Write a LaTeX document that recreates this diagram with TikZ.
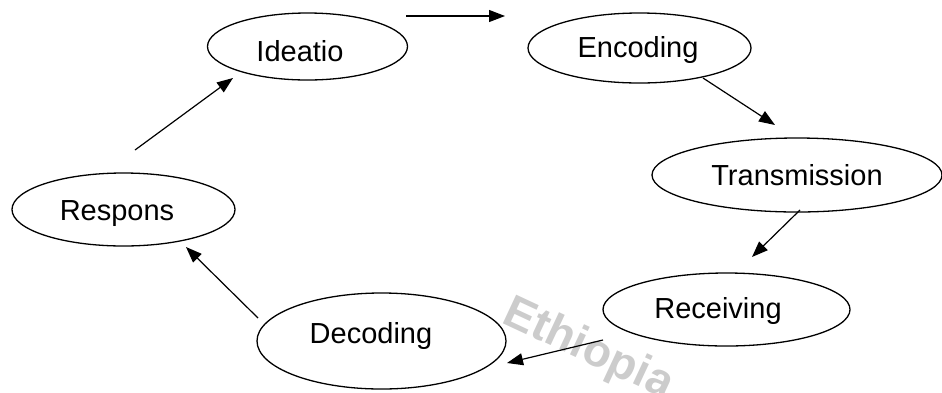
\documentclass[tikz,border=0pt]{standalone}
\usepackage{fontspec}
\setmainfont{Liberation Sans}
\usetikzlibrary{arrows.meta,shapes.geometric}
\definecolor{wmgray}{gray}{0.8}
\begin{document}
\begin{tikzpicture}[x=1pt,y=-1pt,
  stage/.style={ellipse, draw, line width=1.3pt, fill=white, inner sep=0pt},
  lbl/.style={anchor=base, font=\fontsize{29}{34}\selectfont, inner sep=0pt},
  flow/.style={line width=1.2pt, -{Triangle[length=16pt,width=12pt]}}]
\useasboundingbox (0,0) rectangle (942,392);
% watermark
\node[rotate=-25, text=wmgray, font=\fontsize{46}{46}\selectfont\bfseries, inner sep=0pt] (wm) at (588,350) {Ethiopia};
% stages
\node[stage, minimum width=200pt, minimum height=67pt] (ide) at (307.5,46.5) {};
\node[stage, minimum width=223pt, minimum height=70pt] (enc) at (639.5,48) {};
\node[stage, minimum width=290pt, minimum height=74pt] (tra) at (797,175) {};
\node[stage, minimum width=247pt, minimum height=73pt] (rec) at (726.5,309.5) {};
\node[stage, minimum width=249pt, minimum height=96pt] (dec) at (381.5,341) {};
\node[stage, minimum width=223pt, minimum height=73pt] (res) at (123.5,209.5) {};
% labels
\node[lbl] (ideT) at (300,61) {Ideatio};
\node[lbl] (encT) at (638,57) {Encoding};
\node[lbl] (traT) at (797,185) {Transmission};
\node[lbl] (recT) at (718,318) {Receiving};
\node[lbl] (decT) at (371,343) {Decoding};
\node[lbl] (resT) at (117,220) {Respons};
% arrow ends
\coordinate (a1s) at (406,16);  \coordinate (a1e) at (505,16);
\coordinate (a2s) at (703,78);  \coordinate (a2e) at (775,125);
\coordinate (a3s) at (800,210); \coordinate (a3e) at (752,257);
\coordinate (a4s) at (603,340); \coordinate (a4e) at (507,363);
\coordinate (a5s) at (258,318); \coordinate (a5e) at (186,247);
\coordinate (a6s) at (135,150); \coordinate (a6e) at (233,78);
\draw[flow] (a1s) -- (a1e);
\draw[flow] (a2s) -- (a2e);
\draw[flow] (a3s) -- (a3e);
\draw[flow] (a4s) -- (a4e);
\draw[flow] (a5s) -- (a5e);
\draw[flow] (a6s) -- (a6e);
\end{tikzpicture}
\end{document}
